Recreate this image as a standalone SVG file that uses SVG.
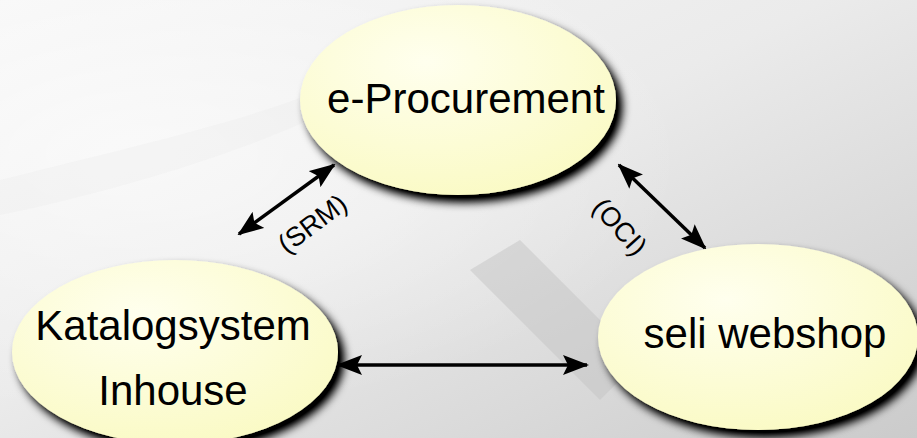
<svg xmlns="http://www.w3.org/2000/svg" width="917" height="438" viewBox="0 0 917 438">
<defs>
<linearGradient id="bg" x1="0" y1="0" x2="1" y2="1">
<stop offset="0" stop-color="#f7f7f7"/>
<stop offset="0.45" stop-color="#ebebeb"/>
<stop offset="1" stop-color="#cbcbcb"/>
</linearGradient>
<radialGradient id="bg2" cx="0.15" cy="0.35" r="0.6">
<stop offset="0" stop-color="#ffffff" stop-opacity="0.6"/>
<stop offset="1" stop-color="#ffffff" stop-opacity="0"/>
</radialGradient>
<radialGradient id="nodefill" cx="0.4" cy="0.3" r="0.75">
<stop offset="0" stop-color="#ffffee"/>
<stop offset="1" stop-color="#fafac4"/>
</radialGradient>
<filter id="shadow" x="-20%" y="-20%" width="150%" height="150%">
<feGaussianBlur in="SourceAlpha" stdDeviation="5"/>
<feOffset dx="6" dy="7" result="b"/>
<feComponentTransfer><feFuncA type="linear" slope="1.2"/></feComponentTransfer>
<feMerge><feMergeNode/><feMergeNode in="SourceGraphic"/></feMerge>
</filter>
<marker id="ah" viewBox="0 0 26 20" refX="24" refY="10" markerWidth="26" markerHeight="20" markerUnits="userSpaceOnUse" orient="auto-start-reverse">
<path d="M0,0 L26,10 L0,20 L5,10 Z" fill="#000"/>
</marker>
<style>
.node{fill:url(#nodefill);filter:url(#shadow)}
.lbl{font-family:"Liberation Sans",Arial,sans-serif;font-size:42px;fill:#000;text-anchor:middle}
.edge{stroke:#000;stroke-width:3.5;fill:none;marker-start:url(#ah);marker-end:url(#ah)}
.elbl{font-family:"Liberation Sans",Arial,sans-serif;font-size:27px;fill:#000;text-anchor:middle}
</style>
</defs>
<rect width="917" height="438" fill="url(#bg)"/>
<rect width="917" height="438" fill="url(#bg2)"/>
<path d="M0,180 C120,150 250,120 320,90 L330,110 C250,150 120,190 0,215 Z" fill="#e6e6e6" opacity="0.25"/>
<path d="M470,270 L520,240 L640,360 L600,400 Z" fill="#c4c4c4" opacity="0.5"/>
<g id="connectors">
<line class="edge" x1="239" y1="234" x2="334" y2="165"/>
<line class="edge" x1="619" y1="165" x2="705" y2="248"/>
<line class="edge" x1="338" y1="365" x2="587" y2="365"/>
<text class="elbl" transform="translate(318,231) rotate(-37)">(SRM)</text>
<text class="elbl" transform="translate(613,233) rotate(48)">(OCI)</text>
</g>
<g id="node-eprocurement">
<ellipse class="node" cx="458" cy="100" rx="158" ry="95"/>
<text class="lbl" x="466" y="113">e-Procurement</text>
</g>
<g id="node-katalogsystem">
<ellipse class="node" cx="175" cy="352" rx="163" ry="92"/>
<text class="lbl" x="173" y="340">Katalogsystem</text>
<text class="lbl" x="173" y="405">Inhouse</text>
</g>
<g id="node-seli">
<ellipse class="node" cx="758" cy="337" rx="160" ry="93"/>
<text class="lbl" x="765" y="348">seli webshop</text>
</g>
</svg>
